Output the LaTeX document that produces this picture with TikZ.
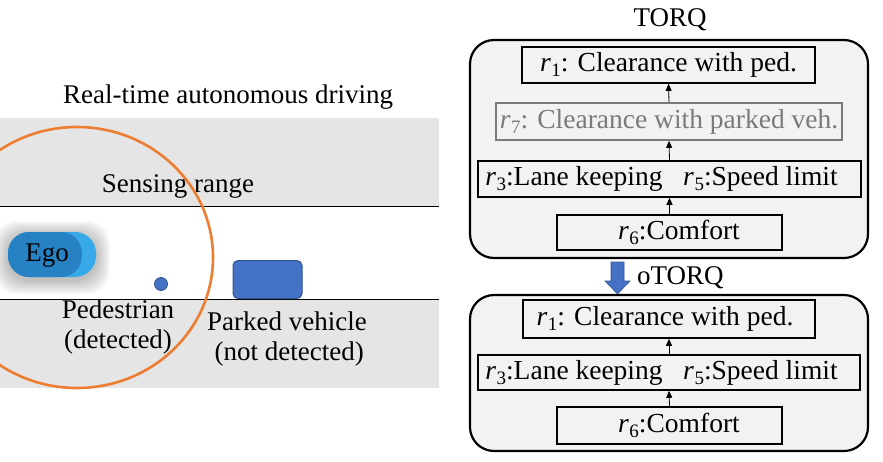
\documentclass[tikz,border=0pt]{standalone}
\usepackage{fontspec}
\setmainfont{Liberation Serif}
\usetikzlibrary{arrows.meta}
\definecolor{roadgray}{HTML}{E5E5E5}
\definecolor{boxgray}{HTML}{F2F2F2}
\definecolor{orng}{HTML}{ED7D31}
\definecolor{vblue}{HTML}{4472C4}
\definecolor{vblueedge}{HTML}{2F528F}
\definecolor{egodark}{HTML}{2682C2}
\definecolor{egolight}{HTML}{37A9E9}
\definecolor{rulegray}{HTML}{7A7A7A}
\newcommand\rsub[1]{\textit{r}\kern0.5pt\raisebox{-5pt}{\fontsize{19}{19}\selectfont #1}}
\tikzset{
  lbl/.style={font=\fontsize{27}{30}\selectfont, inner sep=0pt, align=center},
  outerbox/.style={draw=black, line width=2.2pt, fill=boxgray, rounded corners=24pt},
  rulebox/.style={draw=black, line width=1.6pt, fill=boxgray},
  ruletxt/.style={font=\fontsize{27.5}{30}\selectfont, inner sep=0pt},
  uparrow/.style={-{Triangle[width=6pt,length=7pt]}, line width=0.8pt},
}
\begin{document}
\begin{tikzpicture}[x=1pt,y=-1pt]
\useasboundingbox (0,0) rectangle (883,461);
% road
\fill[roadgray] (0,118) rectangle (439,206);
\fill[roadgray] (0,299) rectangle (439,388);
\draw[line width=1pt] (0,206) -- (439,206);
\draw[line width=1pt] (0,299) -- (439,299);
\node[lbl] (title) at (228,97) {Real-time autonomous driving};
\node[lbl] (sense) at (178,186) {Sensing range};
% ego glow
\foreach \g in {1,...,14}{
  \fill[black,opacity=0.018,rounded corners=22pt] (8-\g,232-\g+3) rectangle (96+\g,277+\g+3);
}
\fill[egolight,rounded corners=21pt] (8,232) rectangle (96,277);
\fill[egodark,rounded corners=21pt] (8,232) rectangle (82,277);
\node[lbl] (ego) at (47,256) {Ego};
% pedestrian & parked vehicle
\node[circle, fill=vblue, draw=vblueedge, line width=0.8pt, minimum size=13pt, inner sep=0pt] (ped) at (161,284) {};
\node[fill=vblue, draw=vblueedge, line width=1pt, rounded corners=5pt, minimum width=69pt, minimum height=38pt, inner sep=0pt] (veh) at (267.5,279.5) {};
\node[lbl] (pedtxt) at (118,327) {Pedestrian\\(detected)};
\node[lbl] (vehtxt) at (287,339) {Parked vehicle\\\,(not detected)};
% sensing range
\draw[orng, line width=2.6pt] (77,257.5) ellipse [x radius=136, y radius=130.5];

% TORQ
\node[lbl] (torq) at (670,20) {TORQ};
\draw[outerbox] (470,40) rectangle (868,258);
\node[rulebox, minimum width=293pt, minimum height=36pt, inner sep=0pt] (a1) at (668.5,65) {};
\node[ruletxt] at (a1) {\rsub{1}: Clearance with ped.};
\node[rulebox, draw=rulegray, minimum width=346pt, minimum height=37pt, inner sep=0pt] (a7) at (669,121.5) {};
\node[ruletxt, text=rulegray] at (a7) {\rsub{7}: Clearance with parked veh.};
\node[rulebox, minimum width=383pt, minimum height=36pt, inner sep=0pt] (a3) at (669.5,179) {};
\node[ruletxt] at (661.5,179) {\rsub{3}:Lane keeping\hspace{0.5em} \rsub{5}:Speed limit};
\node[rulebox, minimum width=225pt, minimum height=35pt, inner sep=0pt] (a6) at (669.5,232.5) {};
\node[ruletxt] at (679,232.5) {\rsub{6}:Comfort};
\draw[uparrow] (a7.north) -- (a1.south);
\draw[uparrow] (a3.north) -- (a7.south);
\draw[uparrow] (a6.north) -- (a3.south);

% transition arrow
\fill[vblue, draw=vblueedge, line width=0.6pt] (611,262) -- (624,262) -- (624,281) -- (630,281) -- (617.5,294) -- (605,281) -- (611,281) -- cycle;
\node[lbl, anchor=west] (otorq) at (637,278) {oTORQ};

% oTORQ
\draw[outerbox] (470,295) rectangle (868,451);
\node[rulebox, minimum width=292pt, minimum height=38pt, inner sep=0pt] (b1) at (669,319) {};
\node[ruletxt] at (665,319) {\rsub{1}: Clearance with ped.};
\node[rulebox, minimum width=382pt, minimum height=35pt, inner sep=0pt] (b3) at (669,372.5) {};
\node[ruletxt] at (661.5,372.5) {\rsub{3}:Lane keeping\hspace{0.5em} \rsub{5}:Speed limit};
\node[rulebox, minimum width=225pt, minimum height=37pt, inner sep=0pt] (b6) at (669.5,425.5) {};
\node[ruletxt] at (679,425.5) {\rsub{6}:Comfort};
\draw[uparrow] (b3.north) -- (b1.south);
\draw[uparrow] (b6.north) -- (b3.south);
\end{tikzpicture}
\end{document}
